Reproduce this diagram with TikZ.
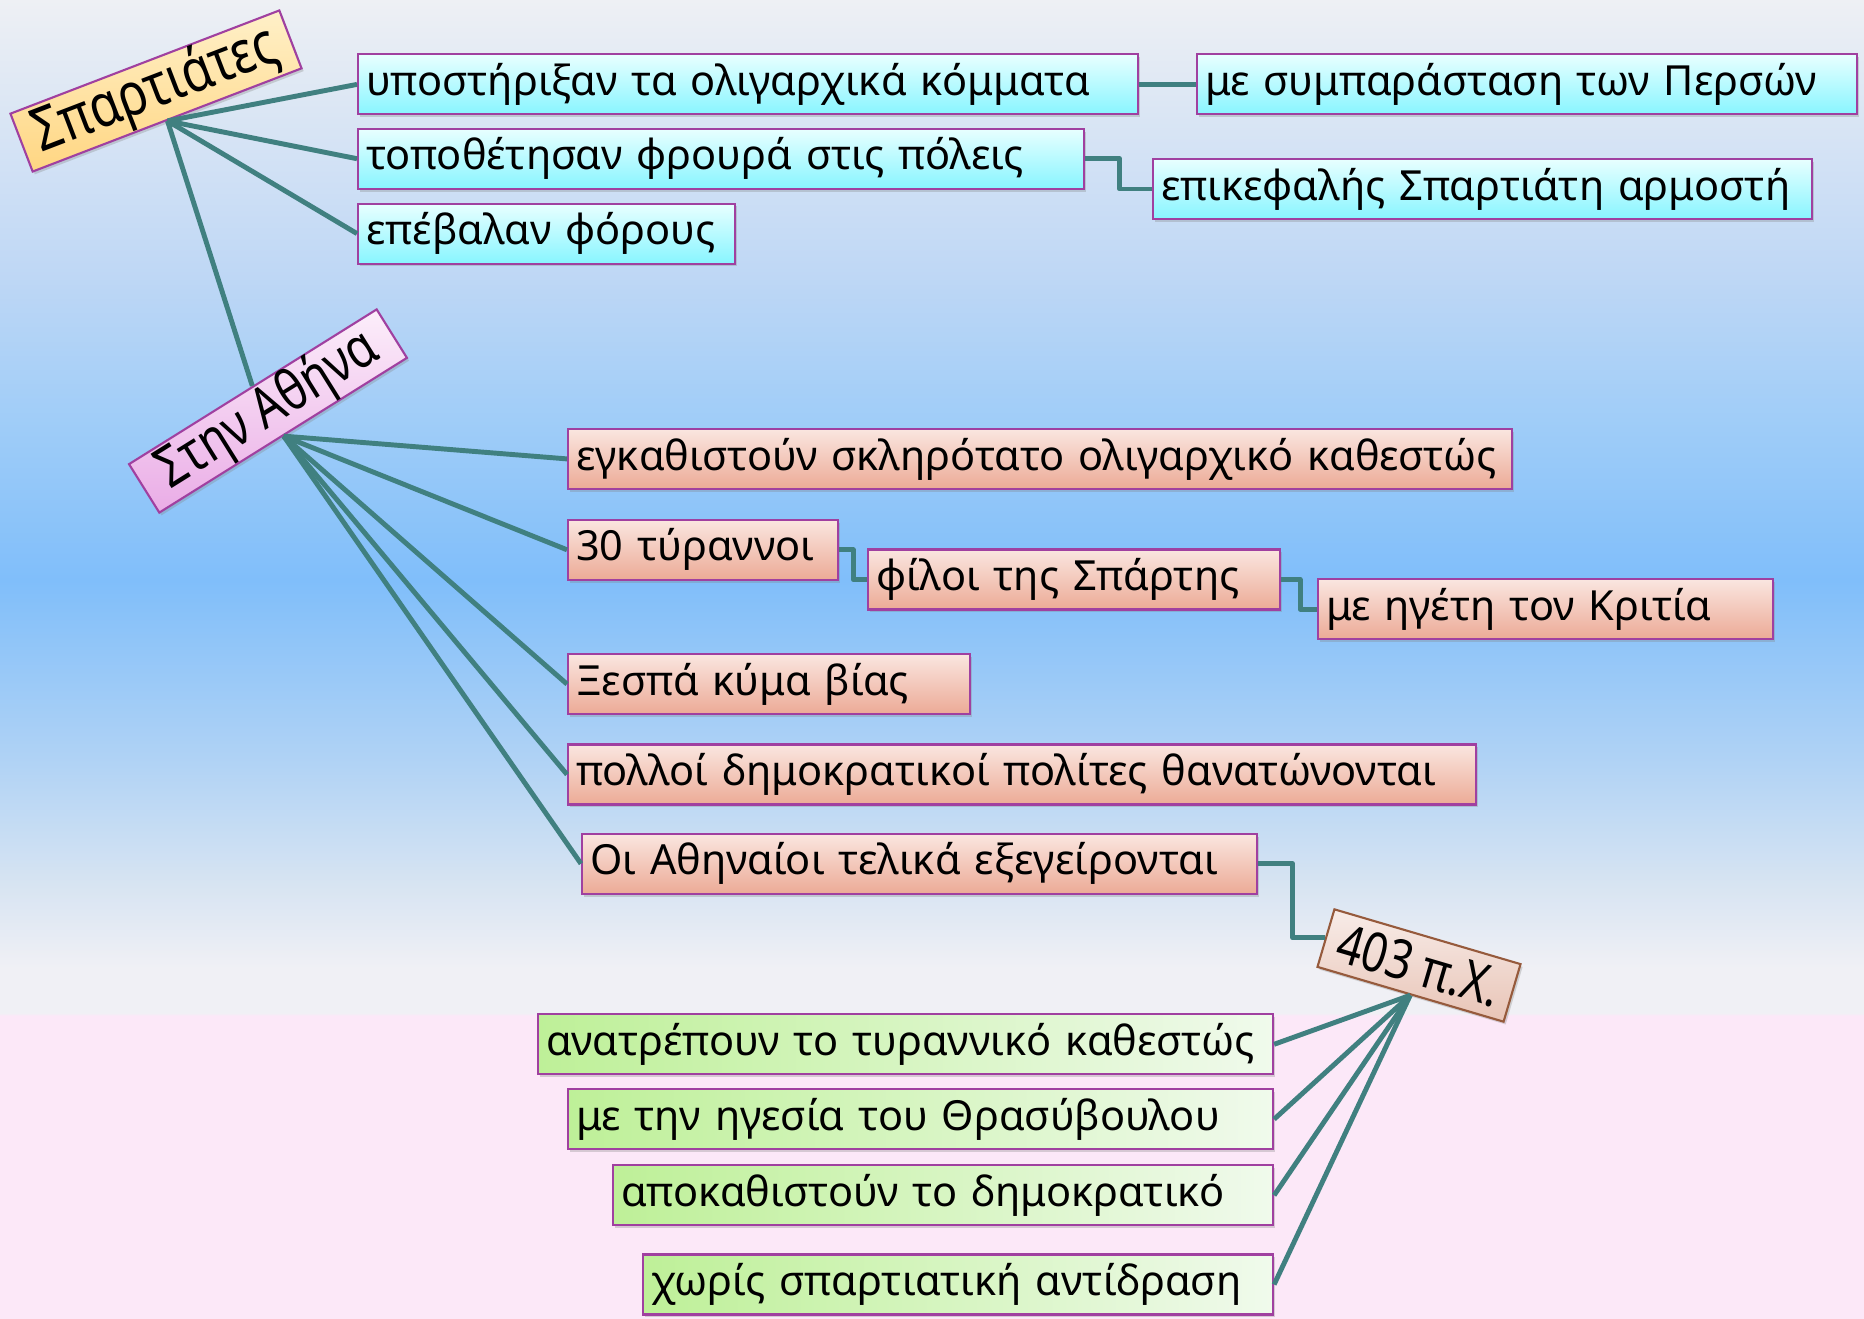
\documentclass[tikz,border=0pt]{standalone}
\usepackage{fontspec}
\setmainfont{Noto Sans}
\newfontfamily\tiltfont[FakeStretch=0.82]{Noto Sans}
\usetikzlibrary{shadows}
\definecolor{bgpink}{RGB}{252,232,248}
\definecolor{bgmist}{RGB}{240,240,245}
\definecolor{bgpale}{RGB}{215,228,242}
\definecolor{bglight}{RGB}{175,210,245}
\definecolor{bgblue}{RGB}{128,190,250}
\definecolor{bgmid}{RGB}{160,205,248}
\definecolor{bgsky}{RGB}{190,215,245}
\definecolor{bgtop}{RGB}{238,240,244}
\definecolor{boxline}{RGB}{160,64,160}
\definecolor{linkcol}{RGB}{64,128,128}
\definecolor{cyantop}{RGB}{232,255,255}
\definecolor{cyanbot}{RGB}{136,245,255}
\definecolor{salmtop}{RGB}{250,230,224}
\definecolor{salmbot}{RGB}{236,170,150}
\definecolor{greenleft}{RGB}{190,240,152}
\definecolor{greenright}{RGB}{240,250,236}
\definecolor{sptop}{RGB}{255,240,200}
\definecolor{spbot}{RGB}{255,214,130}
\definecolor{athtop}{RGB}{252,238,250}
\definecolor{athbot}{RGB}{234,172,230}
\definecolor{yrtop}{RGB}{248,236,232}
\definecolor{yrbot}{RGB}{232,196,182}
\definecolor{yrline}{RGB}{150,90,60}
\pgfdeclareverticalshading{bgshade}{100bp}{color(0bp)=(bgpink); color(36.5bp)=(bgpink); color(36.6bp)=(bgmist); color(38.3bp)=(bgmist); color(41.5bp)=(bgpale); color(46.3bp)=(bglight); color(53bp)=(bgblue); color(59.1bp)=(bgmid); color(64.5bp)=(bgsky); color(75bp)=(bgtop); color(100bp)=(bgtop)}
\tikzset{
	box/.style={draw=boxline, line width=0.6pt, minimum height=0.6cm, inner xsep=0.08cm, inner ysep=0pt, anchor=west, align=left, font=\fontsize{11.8}{14}\selectfont, drop shadow={shadow xshift=0.6pt, shadow yshift=-0.8pt, opacity=0.3}},
	cbox/.style={box, top color=cyantop, bottom color=cyanbot},
	sbox/.style={box, top color=salmtop, bottom color=salmbot},
	gbox/.style={box, left color=greenleft, right color=greenright},
	tilt/.style={draw=boxline, line width=0.6pt, inner sep=0pt, align=center, drop shadow={shadow xshift=0.6pt, shadow yshift=-0.8pt, opacity=0.3}},
	link/.style={draw=linkcol, line width=1.4pt, line join=round}
}
\begin{document}
\begin{tikzpicture}
	\useasboundingbox (0,0) rectangle (18.64,-13.19);
	\fill[shading=bgshade] (0,0) rectangle (18.64,-13.19);
	\node (sp) at ( 1.56, -0.91)	[tilt, rotate=21, minimum width=2.88cm, minimum height=0.62cm, top color=sptop, bottom color=spbot, font=\tiltfont\fontsize{17}{19}\selectfont]	{Σπαρτιάτες};
	\node (ath) at ( 2.68, -4.11)	[tilt, rotate=32, minimum width=2.92cm, minimum height=0.56cm, top color=athtop, bottom color=athbot, font=\tiltfont\fontsize{16}{18}\selectfont]	{Στην Αθήνα};
	\node (t403) at (14.19, -9.655)	[tilt, rotate=-16.4, draw=yrline, minimum width=1.94cm, minimum height=0.6cm, top color=yrtop, bottom color=yrbot, font=\tiltfont\bfseries\fontsize{15.5}{18}\selectfont]	{403 π.Χ.};
	\node (c1) at ( 3.57, -0.844)	[cbox, text width=7.64cm]	{υποστήριξαν τα ολιγαρχικά κόμματα};
	\node (c2) at (11.96, -0.844)	[cbox, text width=6.44cm]	{με συμπαράσταση των Περσών};
	\node (c3) at ( 3.57, -1.587)	[cbox, text width=7.10cm]	{τοποθέτησαν φρουρά στις πόλεις};
	\node (c4) at (11.52, -1.89)	[cbox, text width=6.43cm]	{επικεφαλής Σπαρτιάτη αρμοστή};
	\node (c5) at ( 3.57, -2.336)	[cbox, text width=3.61cm]	{επέβαλαν φόρους};
	\node (s6) at ( 5.67, -4.589)	[sbox, text width=9.28cm]	{εγκαθιστούν σκληρότατο ολιγαρχικό καθεστώς};
	\node (s7) at ( 5.67, -5.498)	[sbox, text width=2.54cm]	{30 τύραννοι};
	\node (s8) at ( 8.67, -5.795)	[sbox, text width=3.96cm]	{φίλοι της Σπάρτης};
	\node (s9) at (13.17, -6.092)	[sbox, text width=4.39cm]	{με ηγέτη τον Κριτία};
	\node (s10) at ( 5.67, -6.841)	[sbox, text width=3.86cm]	{Ξεσπά κύμα βίας};
	\node (s11) at ( 5.67, -7.745)	[sbox, text width=8.92cm]	{πολλοί δημοκρατικοί πολίτες θανατώνονται};
	\node (s12) at ( 5.81, -8.637)	[sbox, text width=6.59cm]	{Οι Αθηναίοι τελικά εξεγείρονται};
	\node (g13) at ( 5.37, -10.443)	[gbox, text width=7.19cm]	{ανατρέπουν το τυραννικό καθεστώς};
	\node (g14) at ( 5.67, -11.192)	[gbox, text width=6.89cm]	{με την ηγεσία του Θρασύβουλου};
	\node (g15) at ( 6.12, -11.953)	[gbox, text width=6.44cm]	{αποκαθιστούν το δημοκρατικό};
	\node (g16) at ( 6.42, -12.845)	[gbox, text width=6.14cm]	{χωρίς σπαρτιατική αντίδραση};
	\draw[link] (sp.south) -- (c1.west);
	\draw[link] (sp.south) -- (c3.west);
	\draw[link] (sp.south) -- (c5.west);
	\draw[link] (sp.south) -- (ath.north);
	\draw[link] (c1.east) -- (c2.west);
	\draw[link] (c3.east) -- ++(0.345,0) |- (c4.west);
	\draw[link] (ath.south) -- (s6.west);
	\draw[link] (ath.south) -- (s7.west);
	\draw[link] (ath.south) -- (s10.west);
	\draw[link] (ath.south) -- (s11.west);
	\draw[link] (ath.south) -- (s12.west);
	\draw[link] (s7.east) -- ++(0.14,0) |- (s8.west);
	\draw[link] (s8.east) -- ++(0.19,0) |- (s9.west);
	\draw[link] (s12.east) -- ++(0.345,0) |- (t403.west);
	\draw[link] (t403.south) -- (g13.east);
	\draw[link] (t403.south) -- (g14.east);
	\draw[link] (t403.south) -- (g15.east);
	\draw[link] (t403.south) -- (g16.east);
\end{tikzpicture}
\end{document}
